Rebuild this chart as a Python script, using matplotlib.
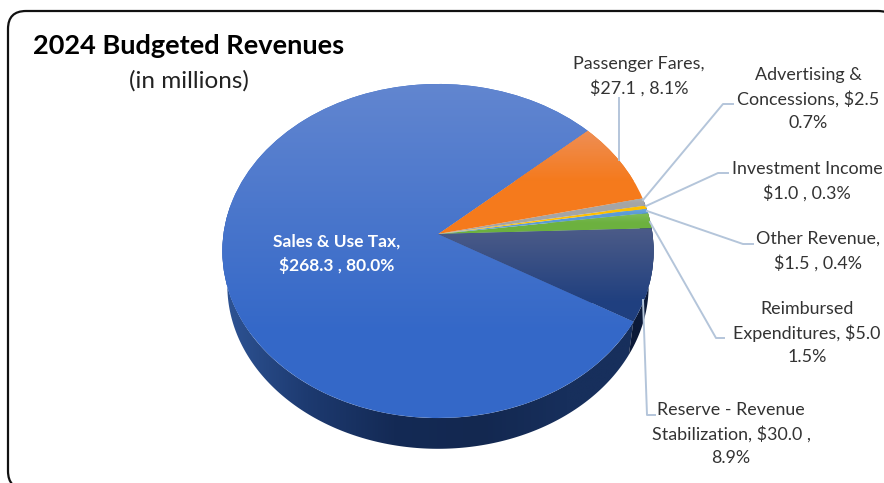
import numpy as np
import matplotlib
matplotlib.use('Agg')
import matplotlib.pyplot as plt
from matplotlib.colors import LinearSegmentedColormap
from matplotlib.patches import FancyBboxPatch, Polygon
from matplotlib.transforms import Transform

# budget data, in millions
categories = ['Sales & Use Tax', 'Reserve - Revenue Stabilization', 'Reimbursed Expenditures',
              'Other Revenue', 'Investment Income', 'Advertising & Concessions', 'Passenger Fares']
revenues = [268.3, 30.0, 5.0, 1.5, 1.0, 2.5, 27.1]
labels = ['Sales & Use Tax,\n$268.3 , 80.0%',
          'Reserve - Revenue\nStabilization, $30.0 ,\n8.9%',
          'Reimbursed\nExpenditures, $5.0\n1.5%',
          'Other Revenue,\n$1.5 , 0.4%',
          'Investment Income\n$1.0 , 0.3%',
          'Advertising &\nConcessions, $2.5\n0.7%',
          'Passenger Fares,\n$27.1 , 8.1%']

# top/bottom colours of the shaded slices
shades = [('#6286d0', '#3468c8'), ('#4d5c88', '#1f3f7f'), ('#80bd58', '#6cb13f'),
          ('#6ba5e0', '#5b9bd5'), ('#ffc000', '#ffc000'), ('#b0b0b0', '#a5a5a5'),
          ('#ee8e55', '#f57a1c')]
# how far down each slice the shading runs, in pixels
shade_depth = [250, 75, 10, 5, 5, 5, 50]

plt.rcParams['font.family'] = ['Lato', 'DejaVu Sans']
START = 41.8


class Tilt(Transform):
    # unit circle -> tilted disc in pixel coords, near side is bigger
    input_dims = 2
    output_dims = 2

    def transform_non_affine(self, xy):
        xy = np.asarray(xy, dtype=float)
        w = 1 + 0.1018 * xy[:, 1]
        return np.column_stack([438 + 214.5 * xy[:, 0] / w, 234 - 165.3 * xy[:, 1] / w])


tilt = Tilt()

fig = plt.figure(figsize=(8.84, 4.83), dpi=100)
ax = fig.add_axes([0, 0, 1, 1])

wedges, _ = ax.pie(revenues, startangle=START, colors=[s[1] for s in shades], radius=1)
ax.set_aspect('auto')
ax.axis('off')


def rim(a, b, n=200):
    t = np.radians(np.linspace(a, b, n))
    return tilt.transform_non_affine(np.column_stack([np.cos(t), np.sin(t)]))


def wall(a, b, stops):
    top = rim(a, b)
    low = np.column_stack([438 + 0.977 * (top[:, 0] - 438), 234 + 0.977 * (top[:, 1] - 234) + 35])
    poly = Polygon(np.vstack([top, low[::-1]]), closed=True, fc='none', ec='none')
    ax.add_patch(poly)
    cmap = LinearSegmentedColormap.from_list('w', stops)
    im = ax.imshow(np.linspace(0, 1, 256).reshape(1, -1), extent=(220, 655, 460, 200),
                   cmap=cmap, aspect='auto', zorder=2)
    im.set_clip_path(poly)


# angles of the slices come from the values
edges = START + np.cumsum([0] + revenues) / sum(revenues) * 360
wall(170, edges[1], ['#2f5596', '#1d3a70', '#142a55', '#132850', '#172f5c', '#172f5c'])
wall(edges[1], 372, ['#0c1a38', '#0c1a38'])

for w, (c1, c2), depth in zip(wedges, shades, shade_depth):
    w.set_transform(tilt + ax.transData)
    w.set_zorder(4)
    w.set_edgecolor('none')
    cmap = LinearSegmentedColormap.from_list('s', [c1, c2])
    grad = np.linspace(0, 1, 256).reshape(-1, 1)
    # shade from the top of the slice, the wedge's own colour shows below the ramp
    y0 = tilt.transform_non_affine(w.get_path().vertices)[:, 1].min()
    im = ax.imshow(grad, extent=(200, 670, y0 + depth, y0), cmap=cmap, aspect='auto', zorder=5)
    im.set_clip_path(w)

ax.set_xlim(0, 884)
ax.set_ylim(483, 0)

# rounded frame runs off the right and bottom edges, filled so agg keeps the corners
frame = FancyBboxPatch((8, 11), 888, 478, boxstyle='round,pad=0,rounding_size=18',
                       fc='white', ec='#111111', lw=1.6, zorder=1)
ax.add_patch(frame)

# leader lines
leaders = [([619, 619], [98, 160]),
           ([733, 723, 643], [104, 104, 200]),
           ([728, 718, 646], [173, 173, 206]),
           ([753, 743, 647], [244, 244, 211]),
           ([724, 716, 650], [338, 338, 222]),
           ([655, 647, 643], [415, 415, 300])]
for xs, ys in leaders:
    ax.plot(xs, ys, color='#b4c5da', lw=1.4, zorder=6)

label_pos = [(337, 254), (731, 434), (807, 333), (818, 251), (807, 181), (808, 99), (639, 76)]
for i, (lab, (x, y)) in enumerate(zip(labels, label_pos)):
    if i == 0:
        ax.text(x, y, lab, color='white', fontsize=12.5, fontweight='bold', ha='center', va='center',
                linespacing=1.5, zorder=7)
    else:
        ax.text(x, y, lab, color='#333333', fontsize=12.9, ha='center', va='center',
                linespacing=1.55, zorder=7)

ax.text(33, 46, '2024 Budgeted Revenues', color='black', fontsize=19.5, fontweight='bold', va='center', ha='left')
ax.text(189, 81, '(in millions)', color='#222222', fontsize=17.5, va='center', ha='center')

fig.savefig('out.png', dpi=100)
